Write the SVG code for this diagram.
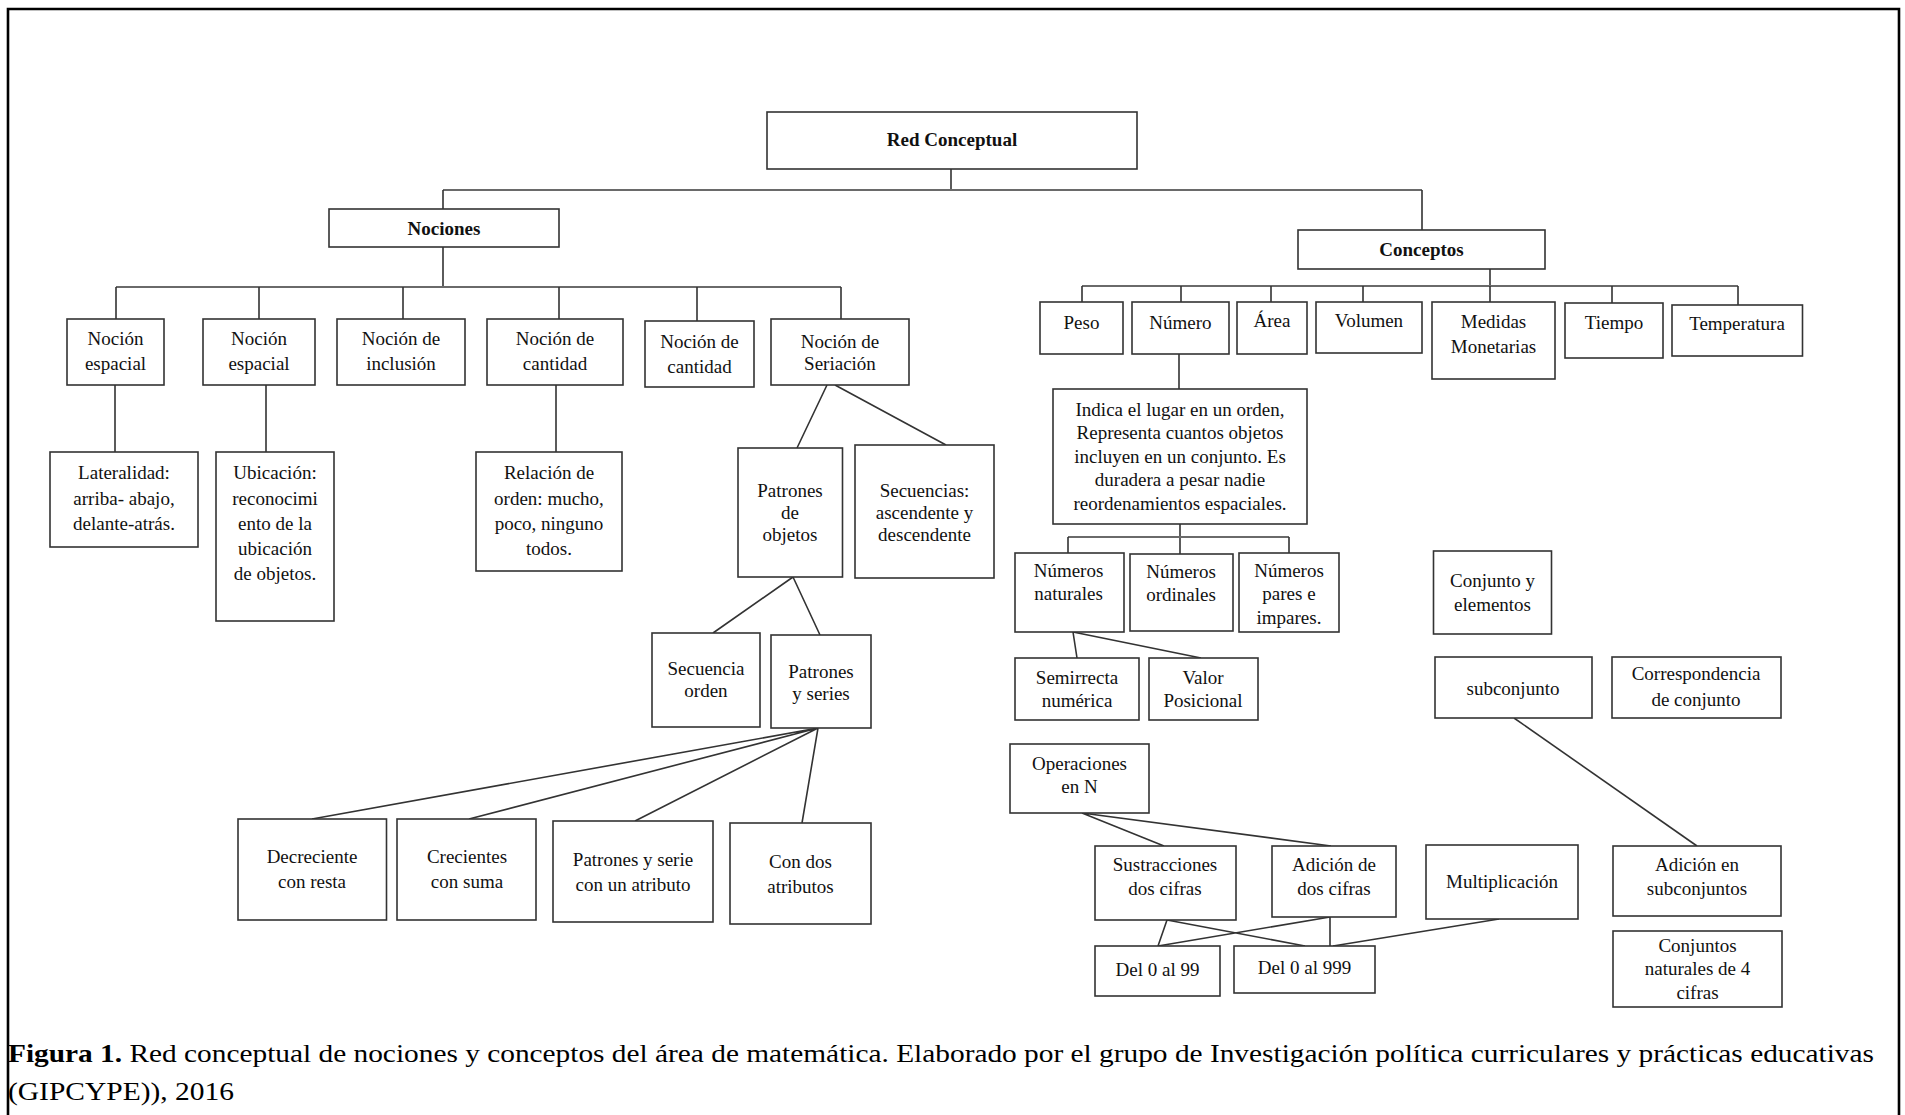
<svg xmlns="http://www.w3.org/2000/svg" width="1905" height="1115" viewBox="0 0 1905 1115">
  <style>
    .box { fill: #ffffff; stroke: #333333; stroke-width: 1.6; }
    .t { font-family: "Liberation Serif", "Times New Roman", serif; font-size: 19px; fill: #111111; text-anchor: middle; }
    .b { font-weight: bold; }
    .bar { fill: none; stroke: #6a6a6a; stroke-width: 2.2; }
    .ln { fill: none; stroke: #333333; stroke-width: 1.6; }
    .frame { fill: none; stroke: #000000; stroke-width: 2.6; }
    .cap { font-family: "Liberation Serif", "Times New Roman", serif; font-size: 26px; fill: #000000; }
  </style>

  <!-- outer frame, open at the bottom -->
  <path class="frame" d="M8,1115 V9 H1899 V1115"/>

  <!-- connectors -->
  <g id="connectors">
    <!-- root split -->
    <path class="ln" d="M951,169 V190"/>
    <path class="bar" d="M443,190 H1422"/>
    <path class="ln" d="M443,190 V209 M1422,190 V230"/>

    <!-- Nociones branch -->
    <path class="ln" d="M443,247 V287"/>
    <path class="bar" d="M116,287 H841"/>
    <path class="ln" d="M116,287 V319 M259,287 V319 M403,287 V319 M559,287 V319 M697,287 V321 M841,287 V319"/>
    <path class="ln" d="M115,385 V452 M266,385 V452 M556,385 V452"/>
    <path class="ln" d="M827,385 L797,448 M835,385 L946,445"/>
    <path class="ln" d="M793,577 L713,633 M793,577 L820,635"/>
    <path class="ln" d="M818,728 L312,819 M818,728 L469,819 M818,728 L635,821 M818,728 L802,823"/>

    <!-- Conceptos branch -->
    <path class="ln" d="M1490,269 V286"/>
    <path class="bar" d="M1082,286 H1738"/>
    <path class="ln" d="M1082,286 V302 M1181,286 V302 M1271,286 V302 M1363,286 V302 M1490,286 V302 M1612,286 V303 M1738,286 V305"/>
    <path class="ln" d="M1179,354 V389"/>
    <path class="ln" d="M1180,524 V554"/>
    <path class="bar" d="M1068,537 H1289"/>
    <path class="ln" d="M1068,537 V553 M1289,537 V553"/>
    <path class="ln" d="M1073,632 L1077,658 M1073,632 L1201,658"/>
    <path class="ln" d="M1514,718 L1697,846"/>
    <path class="ln" d="M1082,813 L1164,846 M1082,813 L1331,846"/>
    <path class="ln" d="M1167,920 L1158,946 M1167,920 L1305,946 M1330,917 L1158,946 M1330,917 V946 M1499,919 L1333,946"/>
  </g>

  <!-- top levels -->
  <g id="red-conceptual">
    <rect class="box" x="767" y="112" width="370" height="57"/>
    <text class="t b" x="952" y="146">Red Conceptual</text>
  </g>
  <g id="nociones">
    <rect class="box" x="329" y="209" width="230" height="38"/>
    <text class="t b" x="444" y="235">Nociones</text>
  </g>
  <g id="conceptos">
    <rect class="box" x="1298" y="230" width="247" height="39"/>
    <text class="t b" x="1421.5" y="256">Conceptos</text>
  </g>

  <!-- Nociones children -->
  <g id="nocion-espacial-1">
    <rect class="box" x="67" y="319" width="97" height="66"/>
    <text class="t"><tspan x="115.5" y="345">Noción</tspan><tspan x="115.5" y="370">espacial</tspan></text>
  </g>
  <g id="nocion-espacial-2">
    <rect class="box" x="203" y="319" width="112" height="66"/>
    <text class="t"><tspan x="259" y="345">Noción</tspan><tspan x="259" y="370">espacial</tspan></text>
  </g>
  <g id="nocion-inclusion">
    <rect class="box" x="337" y="319" width="128" height="66"/>
    <text class="t"><tspan x="401" y="345">Noción de</tspan><tspan x="401" y="370">inclusión</tspan></text>
  </g>
  <g id="nocion-cantidad-1">
    <rect class="box" x="487" y="319" width="136" height="66"/>
    <text class="t"><tspan x="555" y="345">Noción de</tspan><tspan x="555" y="370">cantidad</tspan></text>
  </g>
  <g id="nocion-cantidad-2">
    <rect class="box" x="645" y="321" width="109" height="66"/>
    <text class="t"><tspan x="699.5" y="348">Noción de</tspan><tspan x="699.5" y="373">cantidad</tspan></text>
  </g>
  <g id="nocion-seriacion">
    <rect class="box" x="771" y="319" width="138" height="66"/>
    <text class="t"><tspan x="840" y="348">Noción de</tspan><tspan x="840" y="370">Seriación</tspan></text>
  </g>

  <g id="lateralidad">
    <rect class="box" x="50" y="452" width="148" height="95"/>
    <text class="t"><tspan x="124" y="479">Lateralidad:</tspan><tspan x="124" y="505">arriba- abajo,</tspan><tspan x="124" y="530">delante-atrás.</tspan></text>
  </g>
  <g id="ubicacion">
    <rect class="box" x="216" y="452" width="118" height="169"/>
    <text class="t"><tspan x="275" y="479">Ubicación:</tspan><tspan x="275" y="505">reconocimi</tspan><tspan x="275" y="530">ento de la</tspan><tspan x="275" y="555">ubicación</tspan><tspan x="275" y="580">de objetos.</tspan></text>
  </g>
  <g id="relacion-orden">
    <rect class="box" x="476" y="452" width="146" height="119"/>
    <text class="t"><tspan x="549" y="479">Relación  de</tspan><tspan x="549" y="505">orden: mucho,</tspan><tspan x="549" y="530">poco, ninguno</tspan><tspan x="549" y="555">todos.</tspan></text>
  </g>
  <g id="patrones-objetos">
    <rect class="box" x="738" y="448" width="104.5" height="129"/>
    <text class="t"><tspan x="790" y="497">Patrones</tspan><tspan x="790" y="519">de</tspan><tspan x="790" y="541">objetos</tspan></text>
  </g>
  <g id="secuencias">
    <rect class="box" x="855" y="445" width="139" height="133"/>
    <text class="t"><tspan x="924.5" y="497">Secuencias:</tspan><tspan x="924.5" y="519">ascendente y</tspan><tspan x="924.5" y="541">descendente</tspan></text>
  </g>
  <g id="secuencia-orden">
    <rect class="box" x="652" y="633" width="108" height="94"/>
    <text class="t"><tspan x="706" y="675">Secuencia</tspan><tspan x="706" y="697">orden</tspan></text>
  </g>
  <g id="patrones-series">
    <rect class="box" x="771" y="635" width="100" height="93"/>
    <text class="t"><tspan x="821" y="678">Patrones</tspan><tspan x="821" y="700">y series</tspan></text>
  </g>
  <g id="decreciente">
    <rect class="box" x="238" y="819" width="148.5" height="101"/>
    <text class="t"><tspan x="312" y="863">Decreciente</tspan><tspan x="312" y="888">con resta</tspan></text>
  </g>
  <g id="crecientes">
    <rect class="box" x="397" y="819" width="139" height="101"/>
    <text class="t"><tspan x="467" y="863">Crecientes</tspan><tspan x="467" y="888">con suma</tspan></text>
  </g>
  <g id="patrones-serie-atributo">
    <rect class="box" x="553" y="821" width="160" height="101"/>
    <text class="t"><tspan x="633" y="866">Patrones y serie</tspan><tspan x="633" y="891">con un atributo</tspan></text>
  </g>
  <g id="con-dos-atributos">
    <rect class="box" x="730" y="823" width="141" height="101"/>
    <text class="t"><tspan x="800.5" y="868">Con dos</tspan><tspan x="800.5" y="893">atributos</tspan></text>
  </g>

  <!-- Conceptos children -->
  <g id="peso">
    <rect class="box" x="1040" y="302" width="83" height="52"/>
    <text class="t" x="1081.5" y="329">Peso</text>
  </g>
  <g id="numero">
    <rect class="box" x="1132" y="302" width="97" height="52"/>
    <text class="t" x="1180.5" y="329">Número</text>
  </g>
  <g id="area">
    <rect class="box" x="1237" y="302" width="70" height="52"/>
    <text class="t" x="1272" y="327">Área</text>
  </g>
  <g id="volumen">
    <rect class="box" x="1316" y="302" width="106" height="51"/>
    <text class="t" x="1369" y="327">Volumen</text>
  </g>
  <g id="medidas-monetarias">
    <rect class="box" x="1432" y="302" width="123" height="77"/>
    <text class="t"><tspan x="1493.5" y="328">Medidas</tspan><tspan x="1493.5" y="353">Monetarias</tspan></text>
  </g>
  <g id="tiempo">
    <rect class="box" x="1565" y="303" width="98" height="55"/>
    <text class="t" x="1614" y="329">Tiempo</text>
  </g>
  <g id="temperatura">
    <rect class="box" x="1672" y="305" width="130.5" height="51"/>
    <text class="t" x="1737" y="330">Temperatura</text>
  </g>

  <g id="numero-definicion">
    <rect class="box" x="1053" y="389" width="254" height="135"/>
    <text class="t"><tspan x="1180" y="416">Indica el lugar en un orden,</tspan><tspan x="1180" y="439">Representa  cuantos objetos</tspan><tspan x="1180" y="463">incluyen en un conjunto. Es</tspan><tspan x="1180" y="486">duradera a pesar nadie</tspan><tspan x="1180" y="510">reordenamientos espaciales.</tspan></text>
  </g>
  <g id="numeros-naturales">
    <rect class="box" x="1015" y="553" width="109" height="79"/>
    <text class="t"><tspan x="1068.5" y="577">Números</tspan><tspan x="1068.5" y="600">naturales</tspan></text>
  </g>
  <g id="numeros-ordinales">
    <rect class="box" x="1130" y="554" width="103" height="77"/>
    <text class="t"><tspan x="1181" y="578">Números</tspan><tspan x="1181" y="601">ordinales</tspan></text>
  </g>
  <g id="numeros-pares">
    <rect class="box" x="1239" y="553" width="100" height="79"/>
    <text class="t"><tspan x="1289" y="577">Números</tspan><tspan x="1289" y="600">pares e</tspan><tspan x="1289" y="624">impares.</tspan></text>
  </g>
  <g id="semirrecta">
    <rect class="box" x="1015" y="658" width="124" height="62"/>
    <text class="t"><tspan x="1077" y="684">Semirrecta</tspan><tspan x="1077" y="707">numérica</tspan></text>
  </g>
  <g id="valor-posicional">
    <rect class="box" x="1149" y="658" width="109" height="62"/>
    <text class="t"><tspan x="1203" y="684">Valor</tspan><tspan x="1203" y="707">Posicional</tspan></text>
  </g>
  <g id="conjunto-elementos">
    <rect class="box" x="1433.5" y="551" width="118" height="83"/>
    <text class="t"><tspan x="1492.5" y="587">Conjunto y</tspan><tspan x="1492.5" y="611">elementos</tspan></text>
  </g>
  <g id="subconjunto">
    <rect class="box" x="1435" y="657" width="157" height="61"/>
    <text class="t" x="1513" y="695">subconjunto</text>
  </g>
  <g id="correspondencia">
    <rect class="box" x="1612" y="657" width="169" height="61"/>
    <text class="t"><tspan x="1696" y="680">Correspondencia</tspan><tspan x="1696" y="706">de conjunto</tspan></text>
  </g>
  <g id="adicion-subconjuntos">
    <rect class="box" x="1613" y="846" width="168" height="70"/>
    <text class="t"><tspan x="1697" y="871">Adición en</tspan><tspan x="1697" y="895">subconjuntos</tspan></text>
  </g>
  <g id="conjuntos-naturales">
    <rect class="box" x="1613" y="931" width="169" height="76"/>
    <text class="t"><tspan x="1697.5" y="952">Conjuntos</tspan><tspan x="1697.5" y="975">naturales de 4</tspan><tspan x="1697.5" y="999">cifras</tspan></text>
  </g>
  <g id="operaciones-n">
    <rect class="box" x="1010" y="744" width="139" height="69"/>
    <text class="t"><tspan x="1079.5" y="770">Operaciones</tspan><tspan x="1079.5" y="793">en N</tspan></text>
  </g>
  <g id="sustracciones">
    <rect class="box" x="1095" y="846" width="141" height="74"/>
    <text class="t"><tspan x="1165" y="871">Sustracciones</tspan><tspan x="1165" y="895">dos cifras</tspan></text>
  </g>
  <g id="adicion-dos-cifras">
    <rect class="box" x="1272" y="846" width="124" height="71"/>
    <text class="t"><tspan x="1334" y="871">Adición de</tspan><tspan x="1334" y="895">dos cifras</tspan></text>
  </g>
  <g id="multiplicacion">
    <rect class="box" x="1426" y="845" width="152" height="74"/>
    <text class="t" x="1502" y="888">Multiplicación</text>
  </g>
  <g id="del-0-al-99">
    <rect class="box" x="1095" y="946" width="125" height="50"/>
    <text class="t" x="1157.5" y="976">Del 0 al 99</text>
  </g>
  <g id="del-0-al-999">
    <rect class="box" x="1234" y="946" width="141" height="47"/>
    <text class="t" x="1304.5" y="974">Del 0 al 999</text>
  </g>

  <!-- caption -->
  <text class="cap" x="8" y="1062" textLength="1866" lengthAdjust="spacingAndGlyphs"><tspan font-weight="bold">Figura 1.</tspan> Red conceptual de nociones y conceptos del área de matemática. Elaborado por el grupo de Investigación política curriculares y prácticas educativas</text>
  <text class="cap" x="8" y="1100" textLength="226" lengthAdjust="spacingAndGlyphs">(GIPCYPE)), 2016</text>
</svg>
